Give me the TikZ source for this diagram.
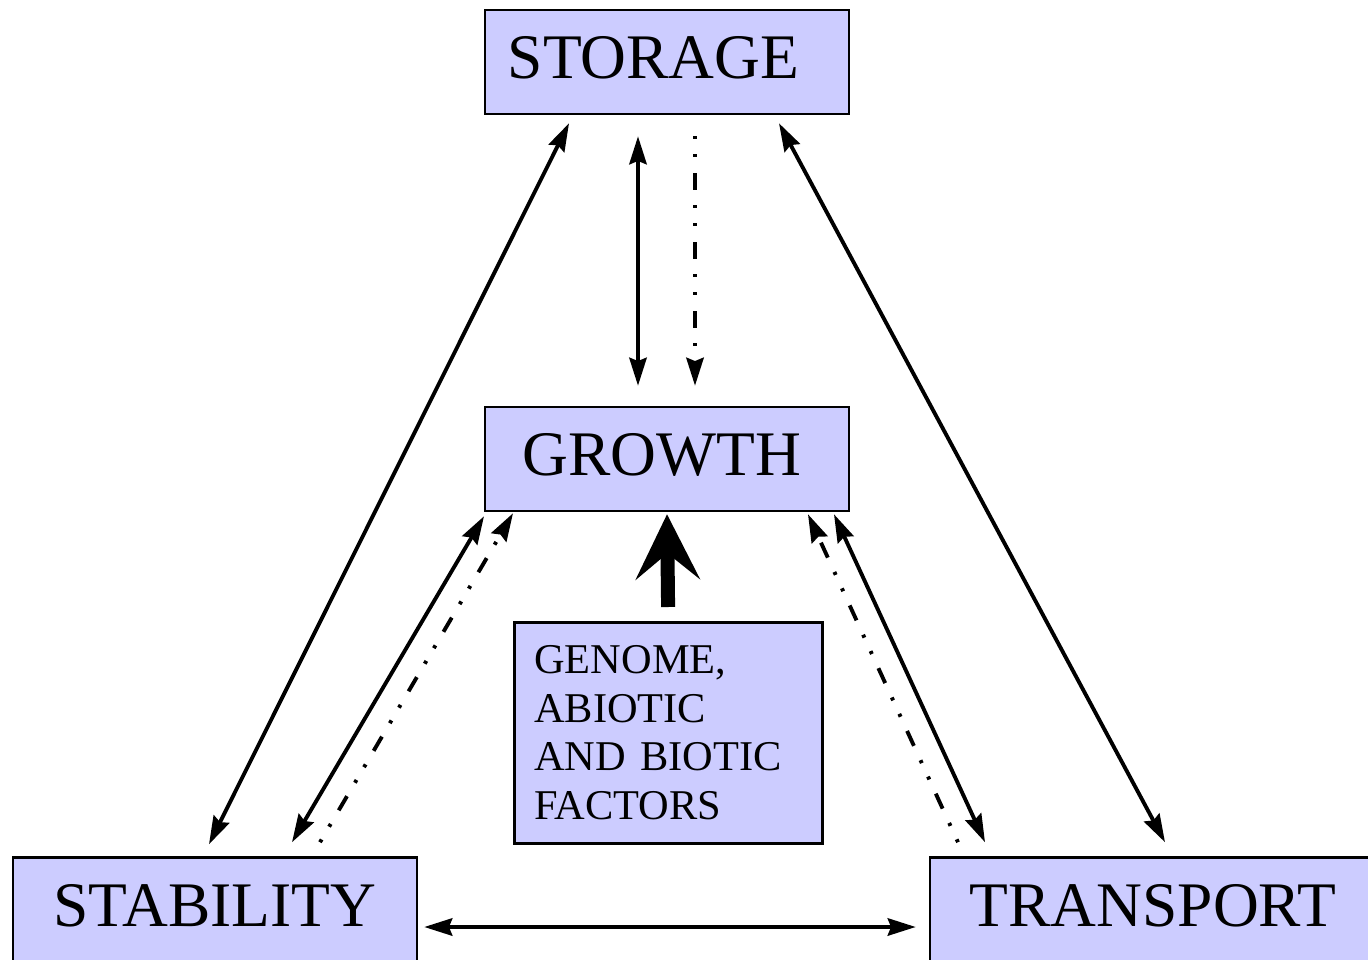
\documentclass[tikz,border=0pt]{standalone}
\usepackage{fontspec}
\setmainfont{Liberation Serif}
\usetikzlibrary{arrows.meta,calc}
\definecolor{boxfill}{RGB}{204,204,255}
\begin{document}
\begin{tikzpicture}[x=0.75pt,y=-0.75pt,
  bigbox/.style={draw=black,fill=boxfill,line width=1.9pt,minimum width=273pt,minimum height=78pt,inner sep=0pt,
    text depth=6.75pt,font=\fontsize{47.6pt}{57pt}\selectfont},
  conn/.style={line width=2.9pt},
  both/.style={conn,{Stealth[length=21pt,width=13pt,inset=2.5pt]}-{Stealth[length=21pt,width=13pt,inset=2.5pt]}},
  dd/.style={conn,line cap=butt,dash pattern=on 2.4pt off 11.1pt on 2.4pt off 11.85pt on 12.3pt off 11.7pt,
    -{Stealth[length=21pt,width=13pt,inset=2.5pt]}},
  thick arrow/.style={line width=10.5pt,-{Stealth[length=48.75pt,width=48pt,inset=19.5pt]}}
]
\useasboundingbox (0,0) rectangle (1368,960);
\node[bigbox] (storage) at (667,62) {STORAGE\kern20pt};
\node[bigbox] (growth) at (667,459) {GROWTH\kern7.5pt};
\node[bigbox,minimum width=303pt] (stability) at (215,909.5) {STABILITY};
\node[bigbox,minimum width=334.5pt] (transport) at (1153,909.5) {TRANSPORT};
\node[draw=black,fill=boxfill,line width=1.9pt,anchor=north west,minimum width=231pt,minimum height=165.75pt,
  inner xsep=15pt,inner ysep=0pt,text width=201pt,align=left,
  font=\fontsize{31.8pt}{36.4pt}\selectfont] (genome) at (513,621)
  {GENOME,\\ABIOTIC\\AND BIOTIC\\FACTORS};

\draw[both] ([shift={(-98,8)}]storage.south) -- ([shift={(-6,-12)}]stability.north);
\draw[both] ([shift={(-29,21)}]storage.south) -- ([shift={(-29,-20)}]growth.north);
\draw[dd] ([shift={(28,21)}]storage.south) -- ([shift={(28,-20)}]growth.north);
\draw[both] ([shift={(112,8)}]storage.south) -- ([shift={(12,-14)}]transport.north);
\draw[both] ([shift={(-183,4)}]growth.south) -- ([shift={(77,-14)}]stability.north);
\draw[dd] ([shift={(105,-14)}]stability.north) -- ([shift={(-154,1)}]growth.south);
\draw[dd] ([shift={(-195,-14)}]transport.north) -- ([shift={(141,2)}]growth.south);
\draw[both] ([shift={(167,2)}]growth.south) -- ([shift={(-168,-14)}]transport.north);
\draw[both] ([shift={(6,17.5)}]stability.east) -- ([shift={(-13,17.5)}]transport.west);
\draw[thick arrow,shorten <=10.5pt,shorten >=1.5pt] (genome.north) -- (growth.south);
\end{tikzpicture}
\end{document}
